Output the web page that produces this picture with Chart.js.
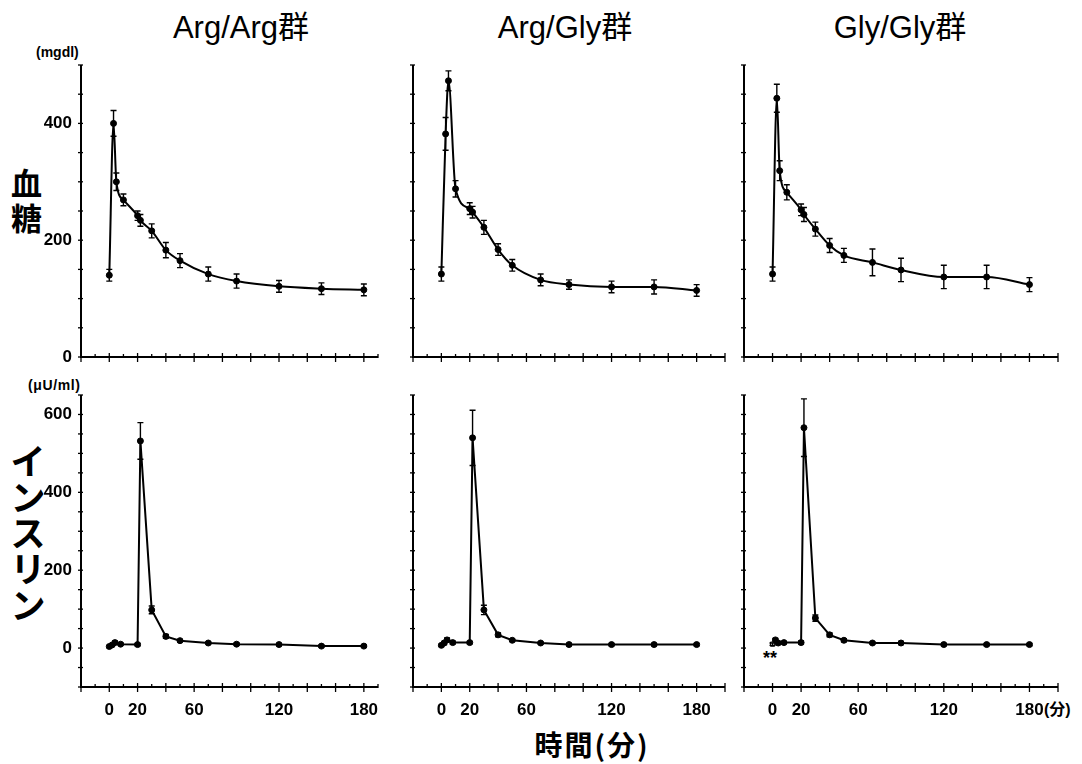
<!DOCTYPE html>
<html>
<head>
<meta charset="utf-8">
<script src="https://cdn.jsdelivr.net/npm/chart.js@4.4.0/dist/chart.umd.min.js"></script>
<style>
    body { margin: 0; background: #fff; width: 1082px; height: 764px; position: relative; overflow: hidden;
           font-family: "Liberation Sans", Arial, "Noto Sans CJK JP", sans-serif; color: #000; }
    .panel { position: absolute; }
    .txt { position: absolute; white-space: nowrap; line-height: 1; }
    .title { font-size: 31px; top: 12px; transform: translateX(-50%); }
    .unit { font-size: 14px; font-weight: bold; }
    .jp { font-family: "Noto Sans CJK JP", sans-serif; font-weight: bold; }
</style>
</head>
<body>
<div class="txt title" style="left:241px">Arg/Arg群</div>
<div class="txt title" style="left:565px">Arg/Gly群</div>
<div class="txt title" style="left:900px">Gly/Gly群</div>

<div class="txt unit" style="left:36px; top:45px">(mgdl)</div>
<div class="txt unit" style="left:28px; top:378px; letter-spacing:0.6px">(μU/ml)</div>

<div class="txt jp" style="left:11px; top:164px; font-size:31px; line-height:35px">血<br>糖</div>
<div class="txt jp" style="left:9px; top:443px; font-size:36px; line-height:38px; writing-mode:vertical-rl">インスリン</div>

<div class="txt jp" style="left:592px; top:730px; font-size:28px; letter-spacing:2px; transform:translateX(-50%)">時間(分)</div>
<div class="txt" style="left:1044px; top:702px; font-size:16px; font-weight:bold">(分)</div>
<div class="txt" style="left:763px; top:649px; font-size:18px; font-weight:bold">**</div>

<div class="panel" style="left:21px; top:53px; width:372px; height:344px"><canvas id="g0"></canvas></div>
<div class="panel" style="left:353px; top:53px; width:387px; height:344px"><canvas id="g1"></canvas></div>
<div class="panel" style="left:684px; top:53px; width:389px; height:344px"><canvas id="g2"></canvas></div>
<div class="panel" style="left:21px; top:383px; width:372px; height:344px"><canvas id="i0"></canvas></div>
<div class="panel" style="left:353px; top:383px; width:387px; height:344px"><canvas id="i1"></canvas></div>
<div class="panel" style="left:684px; top:383px; width:389px; height:344px"><canvas id="i2"></canvas></div>

<script>
// sampling times (min)
const glucoseTimes = [0, 3, 5, 10, 20, 22, 30, 40, 50, 70, 90, 120, 150, 180];
const insulinTimes = [0, 2, 4, 8, 20, 22, 30, 40, 50, 70, 90, 120, 150, 180];
const xTickLabels = [0, 20, 60, 120, 180];

// blood glucose (mg/dl), mean and error
const glucoseArgArg = [140, 400, 300, 269, 242, 234, 216, 183, 165, 142, 130, 121, 117, 115];
const glucoseArgArgErr = [10, 22, 15, 10, 8, 10, 12, 13, 12, 12, 12, 10, 10, 10];
const glucoseArgGly = [142, 382, 473, 288, 254, 248, 222, 184, 157, 132, 124, 120, 120, 114];
const glucoseArgGlyErr = [12, 28, 17, 14, 10, 10, 12, 10, 10, 10, 8, 10, 12, 10];
const glucoseGlyGly = [142, 443, 319, 282, 252, 244, 219, 191, 174, 162, 149, 137, 137, 124];
const glucoseGlyGlyErr = [12, 24, 17, 13, 10, 12, 12, 12, 12, 23, 20, 20, 20, 12];

// insulin (μU/ml), mean and error
const insulinArgArg = [4, 8, 14, 10, 9, 532, 98, 30, 19, 13, 10, 9, 5, 5];
const insulinArgArgErr = [3, 3, 4, 3, 3, 47, 10, 5, 3, 3, 3, 3, 3, 3];
const insulinArgGly = [7, 13, 21, 14, 14, 540, 98, 34, 20, 13, 9, 9, 9, 9];
const insulinArgGlyErr = [3, 4, 5, 4, 3, 71, 12, 5, 3, 3, 3, 3, 3, 3];
const insulinGlyGly = [10, 21, 13, 14, 14, 566, 77, 34, 20, 13, 13, 9, 9, 9];
const insulinGlyGlyErr = [3, 4, 3, 3, 4, 74, 8, 5, 4, 3, 4, 3, 3, 3];

const tickFont = { family: '"Liberation Sans", Arial, sans-serif', size: 17, weight: 'bold' };

const stepTicks = (min, max, step) => {
    const out = [];
    for (let v = min; v <= max; v += step) out.push({ value: v });
    return out;
};

// axis lines with small cross ticks
const axisTicks = {
    id: 'axisTicks',
    afterDraw(chart) {
        const { ctx, chartArea: a, scales: { x, y } } = chart;
        ctx.save();
        ctx.strokeStyle = '#000';
        ctx.lineWidth = 2;
        ctx.beginPath();
        ctx.moveTo(a.left, a.top);
        ctx.lineTo(a.left, a.bottom);
        ctx.lineTo(a.right, a.bottom);
        ctx.stroke();
        ctx.lineWidth = 1.3;
        x.ticks.forEach(t => {
            const px = x.getPixelForValue(t.value);
            const major = t.value % 20 === 0;
            ctx.beginPath();
            ctx.moveTo(px, a.bottom - (major ? 4 : 3));
            ctx.lineTo(px, a.bottom + (major ? 5 : 1));
            ctx.stroke();
        });
        y.ticks.forEach(t => {
            const py = y.getPixelForValue(t.value);
            ctx.beginPath();
            ctx.moveTo(a.left - 3, py);
            ctx.lineTo(a.left + 2, py);
            ctx.stroke();
        });
        ctx.restore();
    }
};

// vertical error bars with caps
const errorBars = {
    id: 'errorBars',
    afterDatasetsDraw(chart) {
        const { ctx, scales: { x, y } } = chart;
        const ds = chart.data.datasets[0];
        ctx.save();
        ctx.strokeStyle = '#000';
        ctx.lineWidth = 1.4;
        ds.data.forEach((p, i) => {
            const e = ds.errors[i];
            const px = x.getPixelForValue(p.x);
            const hi = y.getPixelForValue(p.y + e);
            const lo = y.getPixelForValue(p.y - e);
            ctx.beginPath();
            ctx.moveTo(px, hi);
            ctx.lineTo(px, lo);
            ctx.moveTo(px - 3, hi);
            ctx.lineTo(px + 3, hi);
            ctx.moveTo(px - 3, lo);
            ctx.lineTo(px + 3, lo);
            ctx.stroke();
        });
        ctx.restore();
    }
};

const makePanel = (id, times, values, errors, opts) => {
    const points = times.map((t, i) => ({ x: t, y: values[i] }));
    new Chart(document.getElementById(id), {
        type: 'line',
        data: {
            datasets: [{
                data: points,
                errors: errors,
                borderColor: '#000',
                borderWidth: 2,
                backgroundColor: opts.pointFill || '#000',
                pointBorderColor: '#000',
                pointStyle: opts.pointStyle || 'circle',
                pointRadius: 3,
                pointBorderWidth: 1,
                cubicInterpolationMode: opts.smooth ? 'monotone' : 'default',
                tension: 0
            }]
        },
        options: {
            responsive: true,
            maintainAspectRatio: false,
            animation: false,
            layout: { autoPadding: false, padding: { top: 12, right: 15, left: 0, bottom: 0 } },
            plugins: { legend: { display: false }, tooltip: { enabled: false } },
            scales: {
                x: {
                    type: 'linear',
                    min: -20,
                    max: opts.xMax,
                    grid: { display: false, drawTicks: false },
                    border: { display: false },
                    afterBuildTicks: (scale) => { scale.ticks = stepTicks(-20, opts.xMax, 10); },
                    afterFit: (scale) => {
                        scale.height = 40;
                        scale.paddingLeft = 0;
                        scale.paddingRight = 0;
                    },
                    ticks: {
                        display: opts.xLabels,
                        autoSkip: false,
                        maxRotation: 0,
                        padding: 13,
                        color: '#000',
                        font: tickFont,
                        callback: (v) => xTickLabels.includes(v) ? String(v) : ''
                    }
                },
                y: {
                    min: opts.yMin,
                    max: opts.yMax,
                    grid: { display: false, drawTicks: false },
                    border: { display: false },
                    afterBuildTicks: (scale) => { scale.ticks = stepTicks(opts.yMin, opts.yMax, 50); },
                    afterFit: (scale) => {
                        scale.width = 60;
                        scale.paddingTop = 0;
                        scale.paddingBottom = 0;
                    },
                    ticks: {
                        display: opts.yLabels,
                        autoSkip: false,
                        padding: 9,
                        color: '#000',
                        font: tickFont,
                        callback: (v) => (v >= 0 && v % 200 === 0) ? String(v) : ''
                    }
                }
            }
        },
        plugins: [axisTicks, errorBars]
    });
};

const glucoseRow = { yMin: 0, yMax: 500, xLabels: false, smooth: true };
const insulinRow = { yMin: -100, yMax: 650, xLabels: true, smooth: false };

makePanel('g0', glucoseTimes, glucoseArgArg, glucoseArgArgErr, { ...glucoseRow, xMax: 190, yLabels: true });
makePanel('g1', glucoseTimes, glucoseArgGly, glucoseArgGlyErr, { ...glucoseRow, xMax: 200, yLabels: false });
makePanel('g2', glucoseTimes, glucoseGlyGly, glucoseGlyGlyErr, { ...glucoseRow, xMax: 200, yLabels: false });
makePanel('i0', insulinTimes, insulinArgArg, insulinArgArgErr, { ...insulinRow, xMax: 190, yLabels: true });
makePanel('i1', insulinTimes, insulinArgGly, insulinArgGlyErr, { ...insulinRow, xMax: 200, yLabels: false });
makePanel('i2', insulinTimes, insulinGlyGly, insulinGlyGlyErr, {
    ...insulinRow, xMax: 200, yLabels: false,
    pointStyle: insulinTimes.map((t, i) => i === 0 ? 'rect' : 'circle'),
    pointFill: insulinTimes.map((t, i) => i === 0 ? '#fff' : '#000')
});
</script>
</body>
</html>
